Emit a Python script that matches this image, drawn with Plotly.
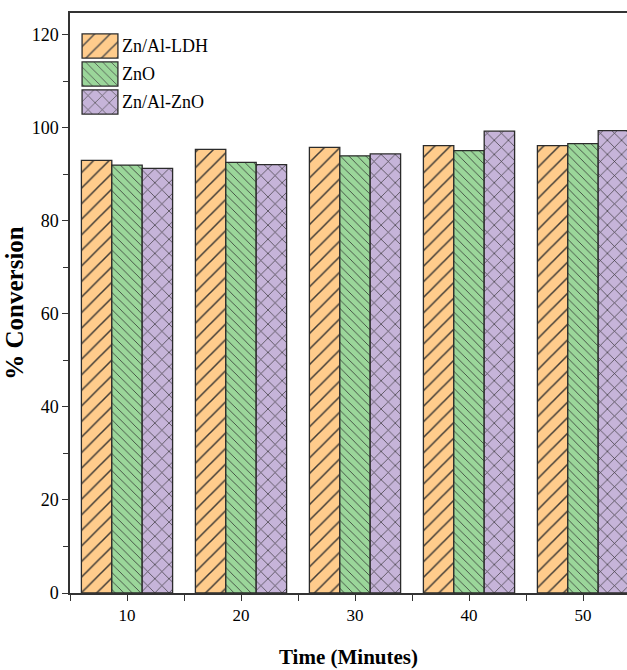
import plotly.graph_objects as go

# ---- data ----
times = [10, 20, 30, 40, 50]
series_names = ["Zn/Al-LDH", "ZnO", "Zn/Al-ZnO"]
znal_ldh = [93.0, 95.4, 95.8, 96.2, 96.2]
zno = [92.0, 92.6, 94.0, 95.1, 96.6]
znal_zno = [91.3, 92.1, 94.4, 99.3, 99.4]
y_ticks = [0, 20, 40, 60, 80, 100, 120]

# ---- styles ----
colors = ["#FFCC8C", "#9BD69A", "#C6B4D9"]
shapes = ["/", "\\", "x"]
psizes = [11, 6, 10]
edge = "#2b2b2b"
serif = "Liberation Serif"

fig = go.Figure()
for name, vals, c, sh, ps in zip(series_names, [znal_ldh, zno, znal_zno], colors, shapes, psizes):
    fig.add_trace(go.Bar(
        x=times, y=vals, name=name, showlegend=False,
        marker=dict(color=c, line=dict(color=edge, width=1.3),
                    pattern=dict(shape=sh, size=ps, solidity=0.14, fgcolor=edge, fgopacity=0.9)),
    ))

# legend swatches drawn as a tiny bar chart on a secondary axis
fig.add_trace(go.Bar(
    x=[1, 1, 1], y=series_names, orientation="h", xaxis="x2", yaxis="y2",
    showlegend=False, hoverinfo="skip",
    marker=dict(color=colors, line=dict(color=edge, width=1.3),
                pattern=dict(shape=shapes, size=psizes, solidity=0.14, fgcolor=edge, fgopacity=0.9)),
))

W, H = 627, 670
L, T, B = 70, 13, 77
pw, ph = W - L, H - T - B

def px_x(x):
    return (x - L) / pw

def px_y(y):
    return (H - B - y) / ph

fig.update_layout(
    width=W, height=H,
    margin=dict(l=L, r=0, t=T, b=B),
    paper_bgcolor="white", plot_bgcolor="white",
    barmode="group", bargap=0.2, bargroupgap=0,
    font=dict(family=serif, color="black"),
    xaxis=dict(
        range=[5, 5 + pw / 11.4], tickmode="array", tickvals=times, ticktext=[str(t) for t in times],
        ticks="outside", ticklen=6, tickwidth=1.3, tickcolor="#333",
        minor=dict(ticks="outside", ticklen=6, tickwidth=1.3, tickcolor="#333", dtick=5, tick0=5),
        showline=True, linecolor="#333", linewidth=1.5, mirror=True,
        showgrid=False, zeroline=False,
        tickfont=dict(size=17, family=serif),
        title=dict(text="<b>Time (Minutes)</b>", font=dict(size=21, family=serif), standoff=25),
    ),
    yaxis=dict(
        range=[0, 124.7], tickmode="array", tickvals=y_ticks,
        ticks="outside", ticklen=6, tickwidth=1.3, tickcolor="#333",
        minor=dict(ticks="outside", ticklen=5, tickwidth=1.3, tickcolor="#333", dtick=10, tick0=0),
        showline=True, linecolor="#333", linewidth=1.5, mirror=False,
        showgrid=False, zeroline=False,
        tickfont=dict(size=18, family=serif),
        title=dict(text="<b>% Conversion</b>", font=dict(size=25, family=serif), standoff=1),
    ),
    xaxis2=dict(domain=[px_x(81), px_x(119)], range=[-0.03, 1.03], anchor="y2",
                visible=False, fixedrange=True),
    yaxis2=dict(domain=[px_y(116), px_y(32)], anchor="x2", side="right",
                categoryorder="array", categoryarray=series_names[::-1],
                showline=False, showgrid=False, zeroline=False, ticks="",
                tickfont=dict(size=18, family=serif), ticklabelstandoff=2, fixedrange=True),
)

fig.update_traces(selector=dict(yaxis="y2"), width=0.86)

fig.write_html("out.html")
